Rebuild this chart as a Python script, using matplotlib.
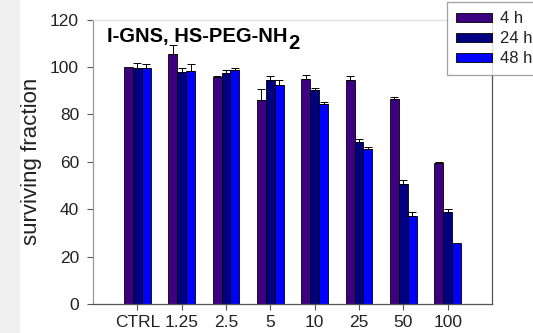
import matplotlib
matplotlib.use("Agg")
import matplotlib.pyplot as plt
from matplotlib.patches import Rectangle
from matplotlib.transforms import offset_copy
import numpy as np

plt.rcParams['font.family'] = ['Liberation Sans', 'DejaVu Sans']

categories = ["CTRL", "1.25", "2.5", "5", "10", "25", "50", "100"]
series_labels = ["4 h", "24 h", "48 h"]
values_4h = [100.1, 105.4, 95.9, 86.0, 95.0, 94.5, 86.5, 59.6]
values_24h = [99.7, 98.0, 97.3, 94.5, 90.3, 68.5, 50.6, 38.7]
values_48h = [99.7, 98.4, 98.7, 92.4, 84.4, 65.4, 37.1, 25.9]
err_4h = [0.0, 3.7, 0.3, 4.5, 1.7, 1.5, 0.7, 0.3]
err_24h = [2.0, 1.5, 1.5, 1.8, 0.7, 1.0, 1.5, 1.5]
err_48h = [1.5, 2.7, 1.0, 2.0, 1.0, 1.0, 1.5, 0.0]
colors = ["#3d0080", "#000080", "#0000ff"]

W, H = 533, 333
fig = plt.figure(figsize=(W / 100, H / 100), dpi=100)
fig.patch.set_facecolor("white")
# pale band along the left edge of the slide
fig.patches.append(Rectangle((0, 0), 20 / W, 1, transform=fig.transFigure,
                             facecolor="#f0f0f0", edgecolor="none", zorder=0))

ax = fig.add_axes([93 / W, (H - 304) / H, (492 - 93) / W, (304 - 19.5) / H])

x = np.arange(len(categories))
width = 0.2
series = [values_4h, values_24h, values_48h]
errors = [err_4h, err_24h, err_48h]
handles = []
for i, (vals, errs, col, lab) in enumerate(zip(series, errors, colors, series_labels)):
    pos = x + (i - 1) * width
    b = ax.bar(pos, vals, width, color=col, edgecolor="black", linewidth=0.6,
               label=lab, zorder=2)
    handles.append(b)
    errs = np.array(errs)
    m = errs > 0
    vals = np.array(vals)
    ax.errorbar(pos[m], vals[m], yerr=[np.zeros(m.sum()), errs[m]], fmt="none",
                ecolor="black", elinewidth=0.7, capsize=3.2, capthick=0.7, zorder=3)

ax.set_xlim(-1, 8)
ax.set_ylim(0, 120)
ax.set_xticks(x)
ax.set_xticklabels(categories)
ax.set_yticks(np.arange(0, 121, 20))
ax.tick_params(axis="both", labelsize=12.5, colors="#555555", length=4, width=0.8,
               labelcolor="#222222")
ax.tick_params(axis="x", pad=4)
ax.tick_params(axis="y", pad=6)
ax.set_ylabel("surviving fraction", fontsize=16, color="#222222", labelpad=6)

ax.spines["left"].set_color("#999999")
ax.spines["bottom"].set_color("#555555")
ax.spines["right"].set_color("#555555")
ax.spines["top"].set_color("#dddddd")
for s in ax.spines.values():
    s.set_linewidth(0.9)

# panel title with a full-size, lowered "2"
title = ax.text(0.035, 0.921, "I-GNS, HS-PEG-NH", transform=ax.transAxes,
                fontsize=14.5, fontweight="bold", color="black",
                va="baseline", ha="left")
fig.canvas.draw()
bb = title.get_window_extent(renderer=fig.canvas.get_renderer())
x_end = ax.transAxes.inverted().transform((bb.x1, bb.y0))[0]
ax.text(x_end, 0.921, "2", fontsize=14.5, fontweight="bold", color="black",
        va="baseline", ha="left",
        transform=offset_copy(ax.transAxes, fig=fig, x=0.5, y=-5, units="points"))

leg = fig.legend(handles=handles, labels=series_labels, loc="upper left",
                 bbox_to_anchor=(447 / W, 1 - 2 / H), fontsize=12, frameon=True,
                 fancybox=False, edgecolor="#888888", handlelength=2.15,
                 handleheight=0.42, labelspacing=0.3, borderpad=0.55,
                 handletextpad=0.45, borderaxespad=0)
leg.get_frame().set_linewidth(0.9)
for t in leg.get_texts():
    t.set_color("#222222")

fig.savefig("out.png", dpi=100)
